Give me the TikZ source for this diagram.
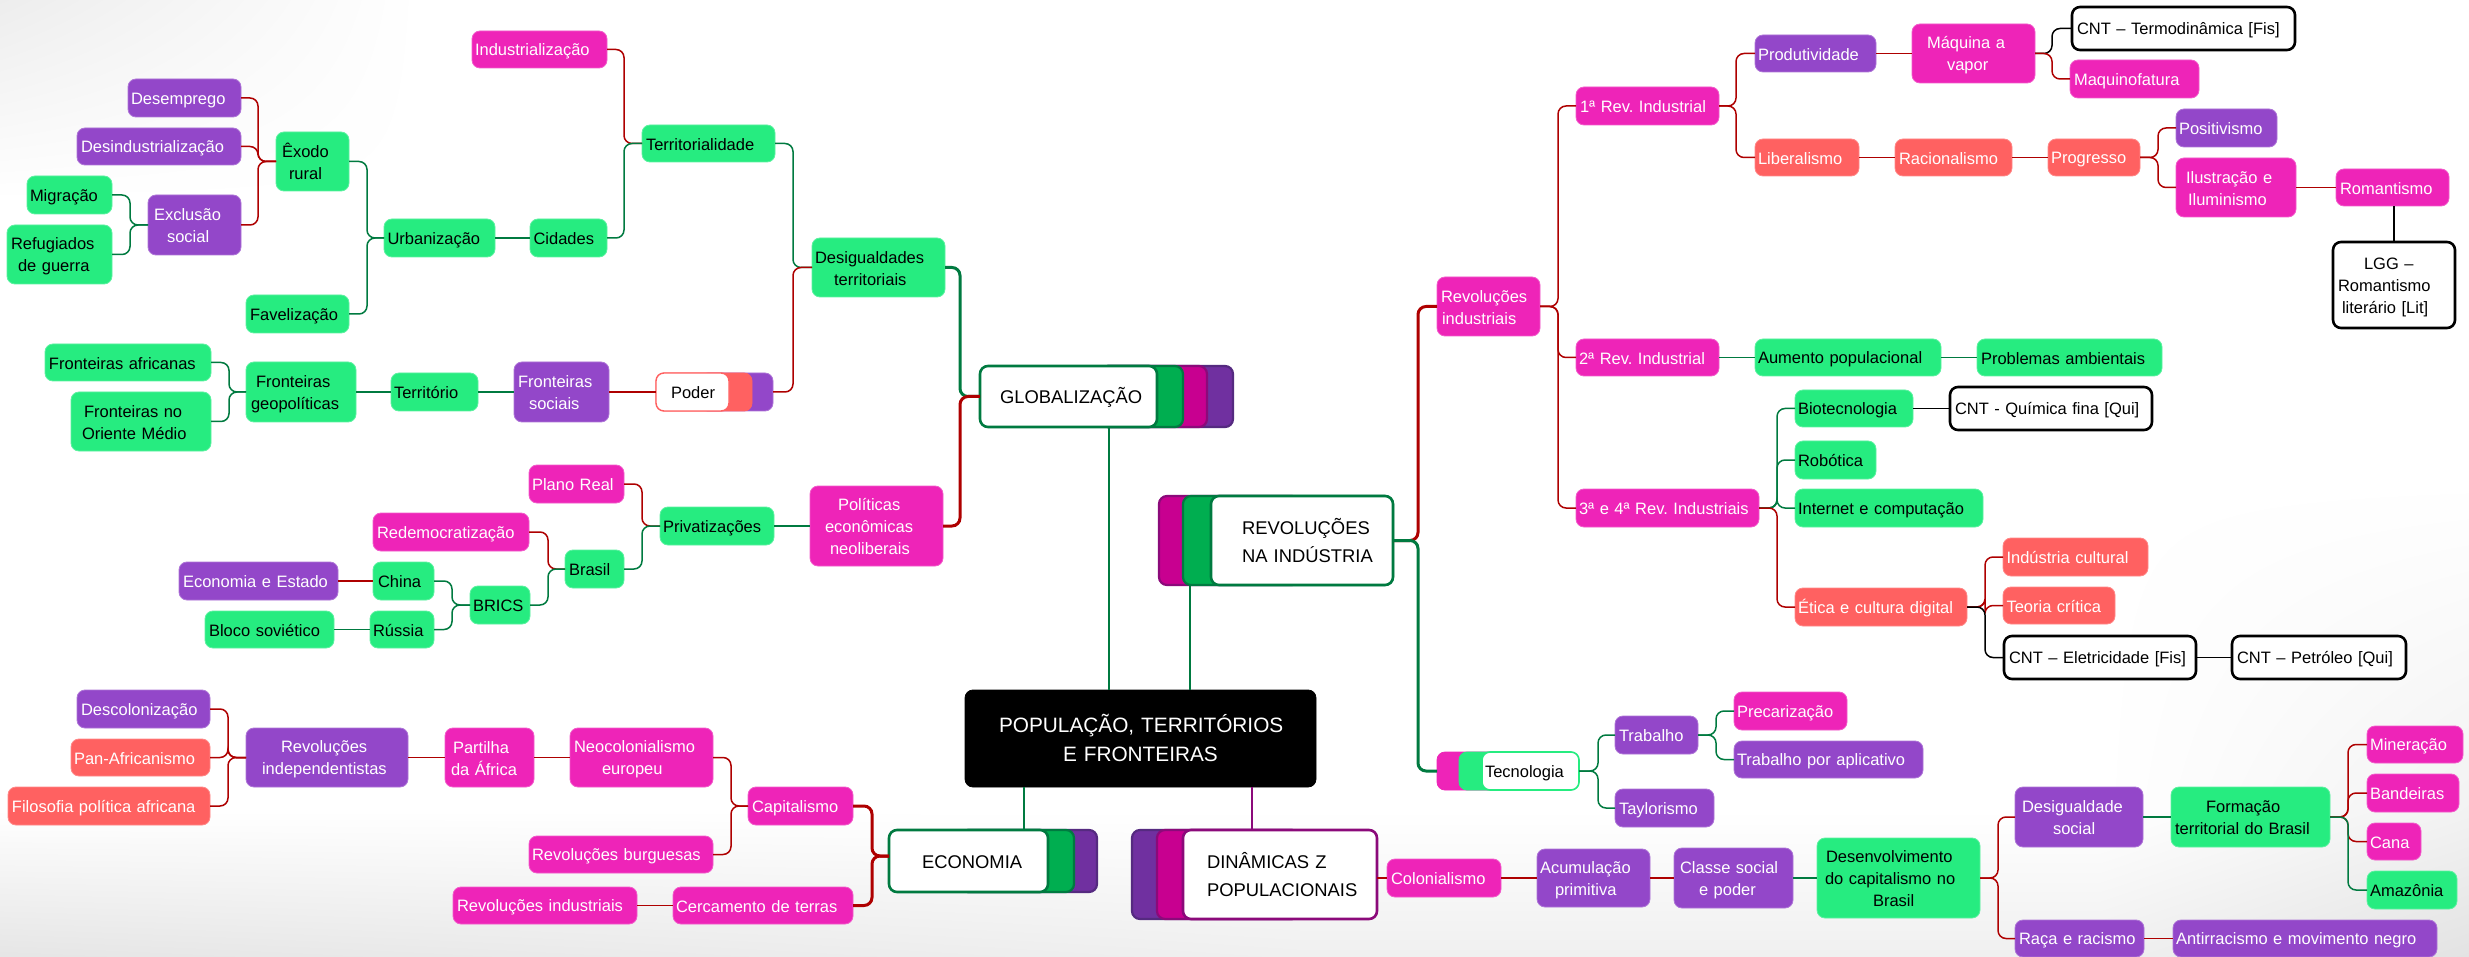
\documentclass[tikz,border=0pt]{standalone}
\usepackage{fontspec}
\usetikzlibrary{shadings}
\setmainfont{Liberation Sans}
\frenchspacing
\definecolor{pk}{HTML}{EE24B8}
\definecolor{pu}{HTML}{9347C9}
\definecolor{gn}{HTML}{26EC80}
\definecolor{co}{HTML}{FF6161}
\definecolor{linered}{HTML}{AE0000}
\definecolor{linegreen}{HTML}{007A40}
\definecolor{lygreen}{HTML}{00AE50}
\definecolor{lymag}{HTML}{C80090}
\definecolor{lypur}{HTML}{7030A0}
\definecolor{dkmag}{HTML}{8B0A7A}
\definecolor{dkpur}{HTML}{552A80}
\newcommand\ls[2]{\hspace*{#1pt}\mbox{\rule[-.13em]{0pt}{1.1em}#2}}
\newcommand\nd[7]{\pgfmathsetmacro\bxw{#5-#3}\pgfmathsetmacro\bxh{#6-#4}%
  \node[#1,text width=\bxw pt,minimum height=\bxh pt,inner sep=0pt,outer sep=0pt,align=left] (#2) at ({(#3+#5)/2},{(#4+#6)/2}) {#7};}
\newcommand\lf[4]{\draw[#1] (#2.west) -- ++(-#3,0) |- (#4.east);}
\newcommand\rt[4]{\draw[#1] (#2.east) -- ++(#3,0) |- (#4.west);}
\newcommand\st[3]{\draw[#1] (#2.east) -- (#3.west);}
\tikzset{
  base/.style={rectangle,rounded corners=8pt,line width=.8pt,font=\fontsize{16.5}{22}\selectfont},
  pinkbox/.style={base,fill=pk,draw=pk!75!white,text=white},
  purplebox/.style={base,fill=pu,draw=pu!75!white,text=white},
  greenbox/.style={base,fill=gn,draw=gn!75!white,text=black},
  coralbox/.style={base,fill=co,draw=co!75!white,text=white},
  cntbox/.style={base,fill=white,draw=black,line width=2.6pt,text=black},
  rootbox/.style={base,fill=black,draw=black,text=white,font=\fontsize{20.8}{29}\selectfont},
  topicbox/.style={base,fill=white,draw=linegreen,line width=2.6pt,text=black,font=\fontsize{18.4}{28}\selectfont},
  topicmag/.style={topicbox,draw=dkmag},
  lg/.style={base,fill=lygreen,draw=linegreen,line width=2.2pt},
  lm/.style={base,fill=lymag,draw=dkmag,line width=2.2pt},
  lp/.style={base,fill=lypur,draw=dkpur,line width=2.2pt},
  rd/.style={draw=linered,line width=1.5pt,rounded corners=8pt},
  gr/.style={draw=linegreen,line width=1.5pt,rounded corners=8pt},
  bk/.style={draw=black,line width=1.5pt,rounded corners=8pt},
  rdT/.style={rd,line width=3pt},
  grT/.style={gr,line width=3pt},
}
\begin{document}
\begin{tikzpicture}[x=1pt,y=-1pt]
\useasboundingbox (0,0) rectangle (2469,957);
\fill[white] (0,0) rectangle (2469,957);
\shade[upper left=white,upper right=white,lower left=white,lower right=white!95!black] (2100,480) rectangle (2469,810);
\shade[upper left=white,upper right=white,lower left=white!90!black,lower right=white!94!black] (0,810) rectangle (1300.5,957);
\shade[upper left=white,upper right=white,lower left=white!94!black,lower right=white!94!black] (1300,810) rectangle (2100.5,957);
\shade[upper left=white,upper right=white!95!black,lower left=white!94!black,lower right=white!89!black] (2100,810) rectangle (2469,957);
\shade[upper left=white!93!black,upper right=white,lower left=white,lower right=white] (0,0) rectangle (420,200);

% ---- central and topics
\nd{rootbox}{root}{965}{690}{1316}{787}{\ls{34}{POPULAÇÃO, TERRITÓRIOS}\\\ls{98}{E FRONTEIRAS}}

\nd{lp}{globP}{1100}{366}{1233}{427}{}
\nd{lm}{globM}{1100}{366}{1207}{427}{}
\nd{lg}{globG}{1100}{366}{1183}{427}{}
\nd{topicbox}{glob}{980}{366}{1157}{427}{\ls{20}{GLOBALIZAÇÃO}}

\nd{lm}{revM}{1159}{496}{1300}{585}{}
\nd{lg}{revG}{1183}{496}{1393}{585}{}
\nd{topicbox}{rev}{1211}{496}{1393}{585}{\ls{31}{REVOLUÇÕES}\\\ls{31}{NA INDÚSTRIA}}

\nd{lp}{ecoP}{960}{830}{1097}{892}{}
\nd{lg}{ecoG}{960}{830}{1074}{892}{}
\nd{topicbox}{eco}{889}{830}{1048}{892}{\ls{33}{ECONOMIA}}

\nd{lp}{dinP}{1132}{830}{1300}{919}{}
\nd{lm}{dinM}{1157}{830}{1300}{919}{}
\nd{topicmag}{din}{1183}{830}{1377}{919}{\ls{24}{DINÂMICAS Z}\\\ls{24}{POPULACIONAIS}}

% ---- upper left
\nd{pinkbox}{ind}{472}{31}{607}{68}{\ls{3}{Industrialização}}
\nd{purplebox}{desemp}{128}{79}{241}{117}{\ls{3}{Desemprego}}
\nd{purplebox}{desind}{77}{128}{241}{165}{\ls{4}{Desindustrialização}}
\nd{greenbox}{exodo}{276}{132}{349}{191}{\ls{6}{Êxodo}\\\ls{13}{rural}}
\nd{greenbox}{migr}{27}{176}{112}{214}{\ls{3}{Migração}}
\nd{purplebox}{exclu}{148}{195}{241}{255}{\ls{6}{Exclusão}\\\ls{19}{social}}
\nd{greenbox}{refug}{7}{225}{112}{284}{\ls{4}{Refugiados}\\\ls{11}{de guerra}}
\nd{greenbox}{urban}{384}{219}{495}{257}{\ls{3.5}{Urbanização}}
\nd{greenbox}{cidad}{530}{219}{607}{257}{\ls{3.5}{Cidades}}
\nd{greenbox}{terr}{642}{125}{775}{162}{\ls{4}{Territorialidade}}
\nd{greenbox}{favel}{246}{295}{349}{333}{\ls{4}{Favelização}}
\nd{greenbox}{fafr}{45}{344}{211}{381}{\ls{4}{Fronteiras africanas}}
\nd{greenbox}{fori}{71}{392}{211}{451}{\ls{13}{Fronteiras no}\\\ls{11}{Oriente Médio}}
\nd{greenbox}{fgeo}{246}{362}{356}{422}{\ls{10}{Fronteiras}\\\ls{5}{geopolíticas}}
\nd{greenbox}{territ}{391}{373}{478}{411}{\ls{3}{Território}}
\nd{purplebox}{fsoc}{514}{362}{609}{422}{\ls{4}{Fronteiras}\\\ls{15}{sociais}}
\nd{base,fill=pu,draw=pu!75!white}{podP}{700}{373}{773}{411}{}
\nd{base,fill=co,draw=co}{podC}{656}{373}{752}{411}{}
\nd{base,fill=white,draw=co,line width=1.4pt,text=black}{poder}{656}{373}{729}{411}{\ls{15}{Poder}}
\nd{greenbox}{desig}{812}{238}{945}{297}{\ls{3}{Desigualdades}\\\ls{22}{territoriais}}

% ---- middle left
\nd{pinkbox}{plano}{529}{465}{624}{503}{\ls{3}{Plano Real}}
\nd{pinkbox}{redem}{373}{513}{529}{551}{\ls{4}{Redemocratização}}
\nd{greenbox}{brasil}{565}{550}{624}{588}{\ls{4}{Brasil}}
\nd{greenbox}{priv}{660}{507}{774}{545}{\ls{3}{Privatizações}}
\nd{purplebox}{econ}{179}{562}{338}{600}{\ls{4}{Economia e Estado}}
\nd{greenbox}{china}{373}{562}{434}{600}{\ls{5}{China}}
\nd{greenbox}{bloco}{205}{611}{334}{648}{\ls{4}{Bloco soviético}}
\nd{greenbox}{russia}{370}{611}{434}{648}{\ls{3}{Rússia}}
\nd{greenbox}{brics}{470}{586}{530}{624}{\ls{3}{BRICS}}
\nd{pinkbox}{polit}{810}{486}{943}{566}{\ls{28}{Políticas}\\\ls{15}{econômicas}\\\ls{20}{neoliberais}}

% ---- lower left
\nd{purplebox}{descol}{77}{690}{210}{728}{\ls{4}{Descolonização}}
\nd{coralbox}{panaf}{71}{739}{210}{776}{\ls{3}{Pan-Africanismo}}
\nd{coralbox}{filos}{8}{787}{210}{825}{\ls{4}{Filosofia política africana}}
\nd{purplebox}{revind}{246}{728}{408}{787}{\ls{35}{Revoluções}\\\ls{16}{independentistas}}
\nd{pinkbox}{partil}{445}{728}{534}{787}{\ls{8}{Partilha}\\\ls{6}{da África}}
\nd{pinkbox}{neoc}{570}{728}{713}{787}{\ls{4}{Neocolonialismo}\\\ls{32}{europeu}}
\nd{pinkbox}{capit}{748}{787}{853}{825}{\ls{4}{Capitalismo}}
\nd{pinkbox}{burg}{529}{836}{713}{873}{\ls{3}{Revoluções burguesas}}
\nd{pinkbox}{rvind}{453}{887}{637}{924}{\ls{4}{Revoluções industriais}}
\nd{pinkbox}{cerc}{673}{887}{853}{924}{\ls{3}{Cercamento de terras}}

% ---- upper right
\nd{pinkbox}{ri}{1437}{277}{1540}{336}{\ls{4}{Revoluções}\\\ls{5}{industriais}}
\nd{pinkbox}{r1}{1576}{87}{1719}{125}{\ls{4}{1ª Rev. Industrial}}
\nd{pinkbox}{r2}{1576}{339}{1719}{376}{\ls{3}{2ª Rev. Industrial}}
\nd{pinkbox}{r3}{1576}{489}{1759}{527}{\ls{3}{3ª e 4ª Rev. Industriais}}
\nd{purplebox}{prod}{1755}{35}{1876}{72}{\ls{3}{Produtividade}}
\nd{pinkbox}{maq}{1912}{24}{2035}{83}{\ls{15}{Máquina a}\\\ls{35}{vapor}}
\nd{cntbox}{termo}{2072}{7}{2295}{50}{\ls{5}{CNT – Termodinâmica [Fis]}}
\nd{pinkbox}{maqf}{2070}{60}{2199}{98}{\ls{4}{Maquinofatura}}
\nd{coralbox}{liber}{1755}{139}{1859}{176}{\ls{3}{Liberalismo}}
\nd{coralbox}{racio}{1895}{139}{2012}{176}{\ls{4}{Racionalismo}}
\nd{coralbox}{progr}{2048}{139}{2140}{176}{\ls{3}{Progresso}}
\nd{purplebox}{posit}{2176}{109}{2277}{147}{\ls{3}{Positivismo}}
\nd{pinkbox}{ilust}{2176}{158}{2296}{217}{\ls{10}{Ilustração e}\\\ls{12}{Iluminismo}}
\nd{pinkbox}{roman}{2336}{169}{2449}{206}{\ls{4}{Romantismo}}
\nd{cntbox}{lgg}{2333}{242}{2455}{328}{\ls{31}{LGG –}\\\ls{5}{Romantismo}\\\ls{9}{literário [Lit]}}
\nd{greenbox}{aument}{1755}{339}{1941}{376}{\ls{3}{Aumento populacional}}
\nd{greenbox}{probl}{1977}{339}{2162}{376}{\ls{4}{Problemas ambientais}}
\nd{greenbox}{biot}{1795}{390}{1913}{427}{\ls{3}{Biotecnologia}}
\nd{cntbox}{quim}{1950}{387}{2152}{430}{\ls{5}{CNT - Química fina [Qui]}}
\nd{greenbox}{robot}{1795}{441}{1876}{479}{\ls{3}{Robótica}}
\nd{greenbox}{inter}{1795}{489}{1983}{527}{\ls{3}{Internet e computação}}
\nd{coralbox}{etica}{1795}{588}{1967}{626}{\ls{3}{Ética e cultura digital}}
\nd{coralbox}{indc}{2003}{538}{2148}{576}{\ls{3.5}{Indústria cultural}}
\nd{coralbox}{teor}{2003}{587}{2115}{624}{\ls{3.5}{Teoria crítica}}
\nd{cntbox}{eletr}{2004}{636}{2196}{679}{\ls{5}{CNT – Eletricidade [Fis]}}
\nd{cntbox}{petro}{2232}{636}{2406}{679}{\ls{5}{CNT – Petróleo [Qui]}}

% ---- Tecnologia
\nd{base,fill=pk,draw=pk}{tecM}{1437}{752}{1540}{790}{}
\nd{base,fill=gn,draw=gn}{tecG}{1459}{752}{1579}{790}{}
\nd{base,fill=white,draw=gn,line width=1.6pt,text=black}{tec}{1482}{752}{1579}{790}{\ls{3}{Tecnologia}}
\nd{purplebox}{trab}{1615}{716}{1698}{754}{\ls{4}{Trabalho}}
\nd{purplebox}{tayl}{1615}{789}{1714}{827}{\ls{4}{Taylorismo}}
\nd{pinkbox}{prec}{1734}{692}{1847}{730}{\ls{3}{Precarização}}
\nd{purplebox}{apli}{1734}{741}{1923}{778}{\ls{3}{Trabalho por aplicativo}}

% ---- lower right
\nd{pinkbox}{colon}{1387}{859}{1501}{897}{\ls{4}{Colonialismo}}
\nd{purplebox}{acum}{1537}{849}{1650}{907}{\ls{3}{Acumulação}\\\ls{18}{primitiva}}
\nd{purplebox}{classe}{1674}{848}{1793}{908}{\ls{6}{Classe social}\\\ls{25}{e poder}}
\nd{greenbox}{desen}{1817}{838}{1980}{918}{\ls{9}{Desenvolvimento}\\\ls{8}{do capitalismo no}\\\ls{56}{Brasil}}
\nd{purplebox}{dsoc}{2015}{787}{2143}{847}{\ls{7}{Desigualdade}\\\ls{38}{social}}
\nd{greenbox}{forma}{2171}{787}{2330}{847}{\ls{35}{Formação}\\\ls{4}{territorial do Brasil}}
\nd{purplebox}{raca}{2015}{920}{2144}{957}{\ls{4}{Raça e racismo}}
\nd{purplebox}{antir}{2173}{920}{2437}{957}{\ls{3}{Antirracismo e movimento negro}}
\nd{pinkbox}{miner}{2367}{726}{2463}{763}{\ls{3}{Mineração}}
\nd{pinkbox}{bande}{2367}{774}{2459}{812}{\ls{3}{Bandeiras}}
\nd{pinkbox}{cana}{2367}{823}{2421}{860}{\ls{3}{Cana}}
\nd{greenbox}{amaz}{2367}{871}{2457}{909}{\ls{3}{Amazônia}}

% ---- connectors: root
\coordinate (gx) at (1109,427);
\coordinate (rx) at (1190,585);
\coordinate (ex) at (1024,830);
\coordinate (dx) at (1252,830);
\draw[gr,line width=2.3pt] (gx) -- (gx |- root.north);
\draw[gr,line width=2.3pt] (rx) -- (rx |- root.north);
\draw[gr,line width=2.3pt] (ex) -- (ex |- root.south);
\draw[draw=dkmag,line width=2.3pt] (dx) -- (dx |- root.south);

% globalização branch
\lf{grT}{glob}{20}{desig}
\lf{rdT}{glob}{20}{polit}
\lf{gr}{desig}{19}{terr}
\lf{rd}{desig}{19}{podP}
\lf{rd}{terr}{18}{ind}
\lf{gr}{terr}{18}{cidad}
\st{gr}{urban}{cidad}
\lf{gr}{urban}{17}{exodo}
\lf{gr}{urban}{17}{favel}
\lf{rd}{exodo}{18}{desemp}
\lf{rd}{exodo}{18}{desind}
\lf{rd}{exodo}{18}{exclu}
\lf{gr}{exclu}{18}{migr}
\lf{gr}{exclu}{18}{refug}
\st{rd}{fsoc}{poder}
\st{gr}{territ}{fsoc}
\st{gr}{fgeo}{territ}
\lf{gr}{fgeo}{17}{fafr}
\lf{gr}{fgeo}{17}{fori}
\st{gr}{priv}{polit}
\lf{rd}{priv}{18}{plano}
\lf{gr}{priv}{18}{brasil}
\lf{rd}{brasil}{17}{redem}
\lf{gr}{brasil}{17}{brics}
\lf{gr}{brics}{18}{china}
\lf{gr}{brics}{18}{russia}
\st{rd}{econ}{china}
\st{gr}{bloco}{russia}

% economia branch
\draw[rdT] ([yshift=5pt]eco.west) -- ++(-17,0) |- (capit.east);
\draw[rdT] ([yshift=5pt]eco.west) -- ++(-17,0) |- (cerc.east);
\lf{rd}{capit}{17}{neoc}
\lf{rd}{capit}{17}{burg}
\st{rd}{partil}{neoc}
\st{rd}{revind}{partil}
\lf{rd}{revind}{18}{descol}
\lf{rd}{revind}{18}{panaf}
\lf{rd}{revind}{18}{filos}
\st{rd}{rvind}{cerc}

% revoluções branch
\rt{rdT}{rev}{25}{ri}
\rt{grT}{rev}{25}{tecM}
\rt{rd}{ri}{18}{r1}
\rt{rd}{ri}{18}{r2}
\rt{rd}{ri}{18}{r3}
\rt{rd}{r1}{17}{prod}
\rt{rd}{r1}{17}{liber}
\st{rd}{prod}{maq}
\rt{bk}{maq}{17}{termo}
\rt{rd}{maq}{17}{maqf}
\st{rd}{liber}{racio}
\st{rd}{racio}{progr}
\rt{rd}{progr}{18}{posit}
\rt{rd}{progr}{18}{ilust}
\st{rd}{ilust}{roman}
\draw[bk] (roman.south -| lgg.north) -- (lgg.north);
\st{gr}{r2}{aument}
\st{gr}{aument}{probl}
\rt{gr}{r3}{18}{biot}
\rt{gr}{r3}{18}{robot}
\rt{gr}{r3}{18}{inter}
\rt{rd}{r3}{18}{etica}
\st{bk}{biot}{quim}
\rt{rd}{etica}{18}{indc}
\rt{rd}{etica}{18}{teor}
\rt{bk}{etica}{18}{eletr}
\st{bk}{eletr}{petro}
\rt{gr}{tec}{19}{trab}
\rt{gr}{tec}{19}{tayl}
\rt{gr}{trab}{18}{prec}
\rt{gr}{trab}{18}{apli}

% dinâmicas branch
\draw[rd,line width=2.6pt] (din.east |- colon.west) -- (colon.west);
\st{rd}{colon}{acum}
\st{rd}{acum}{classe}
\st{gr}{classe}{desen}
\rt{rd}{desen}{18}{dsoc}
\rt{rd}{desen}{18}{raca}
\st{gr}{dsoc}{forma}
\st{rd}{raca}{antir}
\rt{rd}{forma}{18}{miner}
\rt{rd}{forma}{18}{bande}
\rt{rd}{forma}{18}{cana}
\rt{gr}{forma}{18}{amaz}
\end{tikzpicture}
\end{document}
